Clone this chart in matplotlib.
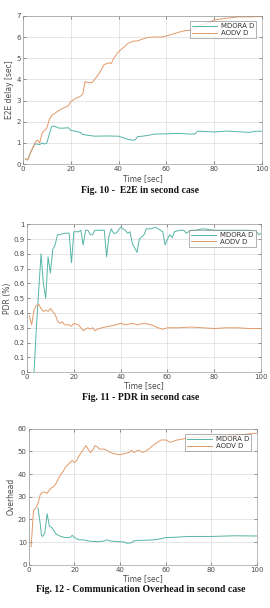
import matplotlib
matplotlib.use("Agg")
import matplotlib.pyplot as plt

# ===== Data =====

# Fig. 10 - E2E delay [sec]
e2e_t_mdora = [1, 2, 3, 4, 5, 6, 7, 8, 9, 10, 11, 12, 13, 14, 15, 17, 19, 20, 22, 24, 25, 28, 30,
               35, 40, 42, 44, 46, 47, 48, 50, 52, 55, 60, 65, 70, 72, 73, 75, 80, 85, 90, 95, 97, 100]
e2e_mdora = [0.25, 0.2, 0.5, 0.75, 0.95, 0.95, 0.92, 1.0, 0.95, 1.0, 1.4, 1.78, 1.8, 1.75, 1.7, 1.7,
             1.72, 1.6, 1.55, 1.5, 1.4, 1.35, 1.32, 1.33, 1.32, 1.25, 1.17, 1.13, 1.15, 1.3, 1.32,
             1.35, 1.42, 1.43, 1.45, 1.42, 1.42, 1.55, 1.55, 1.52, 1.56, 1.53, 1.5, 1.55, 1.55]
e2e_t_aodv = [1, 2, 3, 4, 5, 6, 7, 8, 9, 10, 11, 12, 14, 16, 18, 19, 20, 22, 24, 25, 26, 27, 29, 30,
              32, 34, 36, 37, 38, 40, 42, 44, 46, 48, 50, 52, 55, 58, 60, 63, 66, 68, 70, 72, 74,
              76, 78, 80, 84, 88, 90, 95, 100]
e2e_aodv = [0.25, 0.2, 0.5, 0.75, 1.0, 1.15, 1.0, 1.45, 1.6, 1.7, 2.1, 2.3, 2.45, 2.6, 2.7, 2.75,
            2.95, 3.1, 3.2, 3.3, 3.9, 3.85, 3.85, 4.0, 4.3, 4.7, 4.78, 4.75, 5.0, 5.3, 5.5, 5.7,
            5.8, 5.82, 5.9, 5.97, 6.0, 6.0, 6.05, 6.15, 6.25, 6.3, 6.32, 6.4, 6.55, 6.6, 6.7, 6.8,
            6.87, 6.92, 6.95, 6.95, 6.97]

# Fig. 11 - PDR (%)
pdr_t_mdora = [3, 4, 5, 6, 7, 8, 9, 10, 11, 12, 13, 14, 16, 18, 19, 20, 22, 23, 24, 25, 26, 27, 28,
               29, 30, 33, 34, 35, 36, 37, 38, 40, 42, 43, 44, 45, 47, 48, 50, 51, 53, 55, 57, 58,
               59, 60, 61, 62, 63, 65, 67, 68, 70, 72, 75, 80, 85, 90, 95, 98, 99, 100]
pdr_mdora = [0.0, 0.3, 0.55, 0.8, 0.6, 0.5, 0.78, 0.67, 0.83, 0.86, 0.93, 0.93, 0.94, 0.94, 0.74,
             0.95, 0.95, 0.96, 0.86, 0.96, 0.96, 0.93, 0.93, 0.96, 0.96, 0.96, 0.78, 0.92, 0.97,
             0.94, 0.94, 0.98, 0.96, 0.94, 0.95, 0.87, 0.81, 0.9, 0.93, 0.97, 0.97, 0.98, 0.96,
             0.95, 0.86, 0.9, 0.93, 0.91, 0.95, 0.96, 0.96, 0.94, 0.96, 0.96, 0.97, 0.96, 0.96,
             0.96, 0.96, 0.95, 0.93, 0.94]
pdr_t_aodv = [1, 2, 3, 4, 5, 6, 7, 8, 9, 10, 11, 12, 13, 14, 15, 16, 18, 19, 20, 22, 23, 24, 25,
              26, 27, 28, 29, 30, 32, 35, 38, 40, 42, 45, 47, 50, 53, 56, 58, 60, 65, 70, 75, 80,
              85, 90, 95, 100]
pdr_aodv = [0.38, 0.32, 0.42, 0.45, 0.46, 0.43, 0.41, 0.42, 0.41, 0.43, 0.41, 0.39, 0.35, 0.33,
            0.34, 0.32, 0.32, 0.31, 0.33, 0.32, 0.30, 0.28, 0.29, 0.30, 0.29, 0.30, 0.28, 0.29,
            0.30, 0.31, 0.32, 0.33, 0.32, 0.33, 0.32, 0.33, 0.32, 0.30, 0.29, 0.30, 0.30, 0.305,
            0.30, 0.295, 0.30, 0.30, 0.295, 0.295]

# Fig. 12 - Communication overhead
ovh_t_mdora = [4, 5, 5.5, 6, 7, 8, 9, 10, 11, 12, 14, 16, 18, 19, 20, 22, 24, 26, 30, 33, 34, 36,
               38, 40, 42, 43, 45, 46, 48, 50, 55, 58, 60, 65, 70, 80, 90, 100]
ovh_mdora = [25, 18, 13, 12.5, 14, 22.5, 17, 16.5, 15, 13.5, 12.5, 12, 12, 13, 12, 11, 11, 10.5,
             10.2, 10.5, 11, 10.5, 10.3, 10.2, 10, 9.5, 9.7, 10.5, 10.8, 10.8, 11, 11.5, 12, 12.2,
             12.5, 12.5, 12.8, 12.7]
ovh_t_aodv = [1, 2, 3, 4, 5, 6, 7, 8, 9, 10, 11, 12, 13, 14, 15, 16, 17, 18, 19, 20, 21, 22, 24,
              25, 26, 27, 28, 29, 30, 31, 33, 35, 37, 40, 42, 44, 45, 46, 48, 50, 52, 55, 58, 60,
              62, 65, 68, 70, 72, 80, 90, 95, 100]
ovh_aodv = [8, 24, 25, 27, 31, 32, 32, 31.5, 33, 34, 34.5, 36, 38, 40, 41, 43, 44, 45, 46, 45, 46,
            48, 51, 52.5, 51, 49.5, 50.5, 52.5, 52, 51, 51, 50, 49, 48.5, 49, 49.5, 50.5, 49.5,
            50.5, 49.5, 50.5, 53, 55, 55, 54, 55, 55.5, 56, 56, 56.5, 57, 57.5, 58]

LEGEND = ["MDORA D", "AODV D"]
TEAL = "#55b5a6"
ORANGE = "#e29a68"
GRAY = "#4a4a4a"


def style_axes(ax, ylim, yticks, ylabel):
    ax.set_xlim(0, 100)
    ax.set_ylim(*ylim)
    ax.set_xticks([0, 20, 40, 60, 80, 100])
    ax.set_yticks(yticks)
    ax.grid(True, color="#dcdcdc", linewidth=0.5)
    ax.tick_params(direction="in", length=2, width=0.4, labelsize=5,
                   colors=GRAY, pad=1.5, top=True, right=True)
    for sp in ax.spines.values():
        sp.set_linewidth(0.4)
        sp.set_color("#8a8a8a")
    ax.set_xlabel("Time [sec]", fontsize=5.5, color=GRAY, labelpad=1)
    ax.set_ylabel(ylabel, fontsize=5.5, color=GRAY, labelpad=1.5)
    leg = ax.legend(LEGEND, loc="upper right", fontsize=5, frameon=True, fancybox=False,
                    handlelength=3.6, borderpad=0.3, labelspacing=0.1, handletextpad=0.6,
                    borderaxespad=0.8)
    leg.get_frame().set_linewidth(0.4)
    leg.get_frame().set_edgecolor("#555555")
    for t in leg.get_texts():
        t.set_color("#333333")


fig = plt.figure(figsize=(2.70, 6.08), dpi=100)
fig.patch.set_facecolor("white")

# Fig. 10
ax1 = fig.add_axes([0.085, 0.730, 0.885, 0.244])
ax1.plot(e2e_t_mdora, e2e_mdora, color=TEAL, lw=0.7)
ax1.plot(e2e_t_aodv, e2e_aodv, color=ORANGE, lw=0.7)
style_axes(ax1, (0, 7), range(0, 8), "E2E delay [sec]")

# Fig. 11
ax2 = fig.add_axes([0.100, 0.388, 0.867, 0.243])
ax2.plot(pdr_t_mdora, pdr_mdora, color=TEAL, lw=0.7)
ax2.plot(pdr_t_aodv, pdr_aodv, color=ORANGE, lw=0.7)
style_axes(ax2, (0, 1), [i / 10 for i in range(11)], "PDR (%)")
ax2.set_yticklabels(["0", "0.1", "0.2", "0.3", "0.4", "0.5", "0.6", "0.7", "0.8", "0.9", "1"])

# Fig. 12
ax3 = fig.add_axes([0.107, 0.071, 0.844, 0.224])
ax3.plot(ovh_t_mdora, ovh_mdora, color=TEAL, lw=0.7)
ax3.plot(ovh_t_aodv, ovh_aodv, color=ORANGE, lw=0.7)
style_axes(ax3, (0, 60), range(0, 61, 10), "Overhead")

cap = dict(ha="center", va="center", fontsize=7, fontweight="bold",
           family="Liberation Serif", color="#111111")
fig.text(0.52, 0.686, "Fig. 10 -  E2E in second case", **cap)
fig.text(0.52, 0.347, "Fig. 11 - PDR in second case", **cap)
fig.text(0.52, 0.030, "Fig. 12 - Communication Overhead in second case", **cap)

fig.savefig("out.png", dpi=100)
